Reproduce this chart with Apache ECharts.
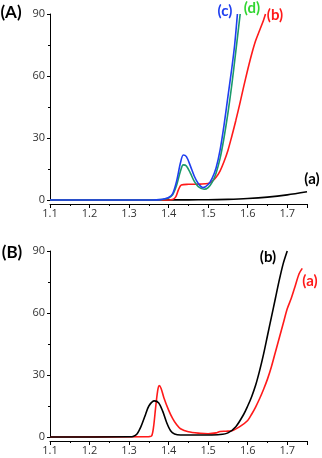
<!DOCTYPE html>
<html>
<head>
<meta charset="utf-8">
<script src="https://cdn.jsdelivr.net/npm/echarts@6/dist/echarts.min.js"></script>
<style>
  html, body { margin: 0; padding: 0; background: #fff; }
  #chart { width: 322px; height: 458px; }
</style>
</head>
<body>
<div id="chart"></div>
<script>
// 坐标轴刻度
const xTicks = [1.1, 1.2, 1.3, 1.4, 1.5, 1.6, 1.7]
const yTicks = [0, 30, 60, 90]

// Panel A
const aX = [1.10, 1.30, 1.40, 1.45, 1.50, 1.55, 1.60, 1.65, 1.70, 1.75]
const aY = [0, 0, 0.05, 0.08, 0.1, 0.3, 0.7, 1.4, 2.5, 4]

const bX = [1.10, 1.40, 1.41, 1.418, 1.425, 1.432, 1.45, 1.48, 1.50, 1.51, 1.52, 1.53, 1.54, 1.55, 1.56, 1.57, 1.58, 1.59, 1.60, 1.61, 1.62, 1.63, 1.64, 1.645]
const bY = [0, 0, 0.2, 1.5, 5, 7.3, 7.6, 7.7, 8, 9, 11, 14, 18.5, 24, 31, 38.5, 46.5, 55, 63, 70.5, 77, 82, 87, 90]

const cX = [1.10, 1.36, 1.38, 1.39, 1.40, 1.41, 1.42, 1.43, 1.437, 1.445, 1.455, 1.465, 1.475, 1.487, 1.50, 1.51, 1.52, 1.53, 1.54, 1.55, 1.56, 1.567, 1.574]
const cY = [0, 0, 0.2, 0.6, 1.2, 3, 9, 18, 21.8, 21, 16.5, 11.5, 8, 6, 7.5, 10.5, 15.5, 24, 36, 50, 64, 75, 90]

const dX = [1.10, 1.36, 1.38, 1.39, 1.40, 1.41, 1.42, 1.43, 1.437, 1.445, 1.455, 1.465, 1.475, 1.49, 1.50, 1.51, 1.52, 1.53, 1.54, 1.55, 1.56, 1.57, 1.581]
const dY = [0, 0, 0.2, 0.5, 1, 2.5, 7, 14, 17, 16.5, 13, 9, 6.5, 5.2, 6, 8.5, 13, 20, 30, 42, 56, 72, 90]

// Panel B
const pbX = [1.10, 1.30, 1.31, 1.32, 1.33, 1.34, 1.35, 1.364, 1.375, 1.385, 1.395, 1.405, 1.415, 1.43, 1.50, 1.53, 1.55, 1.57, 1.59, 1.60, 1.61, 1.62, 1.63, 1.64, 1.65, 1.66, 1.67, 1.68, 1.69, 1.70]
const pbY = [0, 0.1, 0.3, 1.5, 5, 10, 15, 17.5, 16.5, 12.5, 7, 3, 1.5, 1, 1, 1.2, 2, 5, 11, 15, 19.5, 25, 32, 40, 49, 58, 67, 76, 84, 90]

const paX = [1.10, 1.35, 1.357, 1.362, 1.367, 1.372, 1.376, 1.381, 1.388, 1.40, 1.41, 1.42, 1.43, 1.45, 1.48, 1.50, 1.52, 1.53, 1.545, 1.56, 1.58, 1.60, 1.61, 1.62, 1.63, 1.64, 1.65, 1.66, 1.67, 1.68, 1.69, 1.70, 1.71, 1.72, 1.73, 1.738]
const paY = [0, 0.2, 0.5, 5, 14, 22, 24.9, 23.5, 19, 13, 9, 6, 4, 2.5, 1.8, 1.6, 2, 2.7, 2.8, 3, 5, 8, 11, 14.5, 18.5, 23, 28, 34, 41, 48, 55, 62, 67, 73, 79, 81.6]

const zip = (xs, ys) => xs.map((x, i) => [x, ys[i]])

const chart = echarts.init(document.getElementById('chart'), null, { renderer: 'canvas' })

const axisFont = { fontFamily: 'Open Sans', fontSize: 11, color: '#333' }

const makeX = (gridIndex) => ({
    type: 'value',
    gridIndex,
    min: 1.1,
    max: 1.75,
    interval: 0.1,
    offset: 4,
    axisLine: { show: true, onZero: false, lineStyle: { color: '#000', width: 1 } },
    axisTick: { show: true, length: 4, lineStyle: { color: '#000' } },
    minorTick: { show: true, splitNumber: 2, length: 2, lineStyle: { color: '#000' } },
    splitLine: { show: false },
    axisLabel: Object.assign({
        margin: 4,
        showMaxLabel: false,
        formatter: (v) => (xTicks.some((t) => Math.abs(t - v) < 1e-6) ? v.toFixed(1) : ''),
    }, axisFont),
})

const makeY = (gridIndex) => ({
    type: 'value',
    gridIndex,
    min: yTicks[0],
    max: yTicks[yTicks.length - 1],
    interval: 30,
    axisLine: { show: true, lineStyle: { color: '#000', width: 1 } },
    axisTick: { show: true, length: 3, lineStyle: { color: '#000' } },
    minorTick: { show: true, splitNumber: 2, length: 2, lineStyle: { color: '#000' } },
    splitLine: { show: false },
    axisLabel: Object.assign({ margin: 5 }, axisFont),
})

const line = (name, data, color, xi) => ({
    name,
    type: 'line',
    xAxisIndex: xi,
    yAxisIndex: xi,
    data,
    smooth: 0.3,
    showSymbol: false,
    clip: false,
    lineStyle: { color, width: 1.6 },
    itemStyle: { color },
})

const label = (text, x, y, color, size) => ({
    type: 'text',
    x,
    y,
    style: {
        text,
        fill: color,
        font: 'bold ' + (size || 15) + 'px Lato',
        textAlign: 'center',
        textVerticalAlign: 'middle',
    },
})

const option = {
    animation: false,
    backgroundColor: '#fff',
    grid: [
        { left: 50, right: 15, top: 14, height: 186 },
        { left: 50, right: 15, top: 251, height: 186 },
    ],
    xAxis: [makeX(0), makeX(1)],
    yAxis: [makeY(0), makeY(1)],
    series: [
        line('(a)', zip(aX, aY), '#000000', 0),
        line('(b)', zip(bX, bY), '#ff1a1a', 0),
        line('(d)', zip(dX, dY), '#1a9a6a', 0),
        line('(c)', zip(cX, cY), '#1f3ff0', 0),
        line('(a)', zip(paX, paY), '#ff1a1a', 1),
        line('(b)', zip(pbX, pbY), '#000000', 1),
    ],
    graphic: [
        label('(A)', 11, 13, '#000', 17),
        label('(c)', 225, 11, '#1f3ff0'),
        label('(d)', 252, 8, '#33d633'),
        label('(b)', 275, 15, '#ff1a1a'),
        label('(a)', 312, 179, '#000'),
        label('(B)', 12, 253, '#000', 17),
        label('(b)', 268, 257, '#000'),
        label('(a)', 310, 281, '#ff1a1a'),
    ],
}

chart.setOption(option)
</script>
</body>
</html>
